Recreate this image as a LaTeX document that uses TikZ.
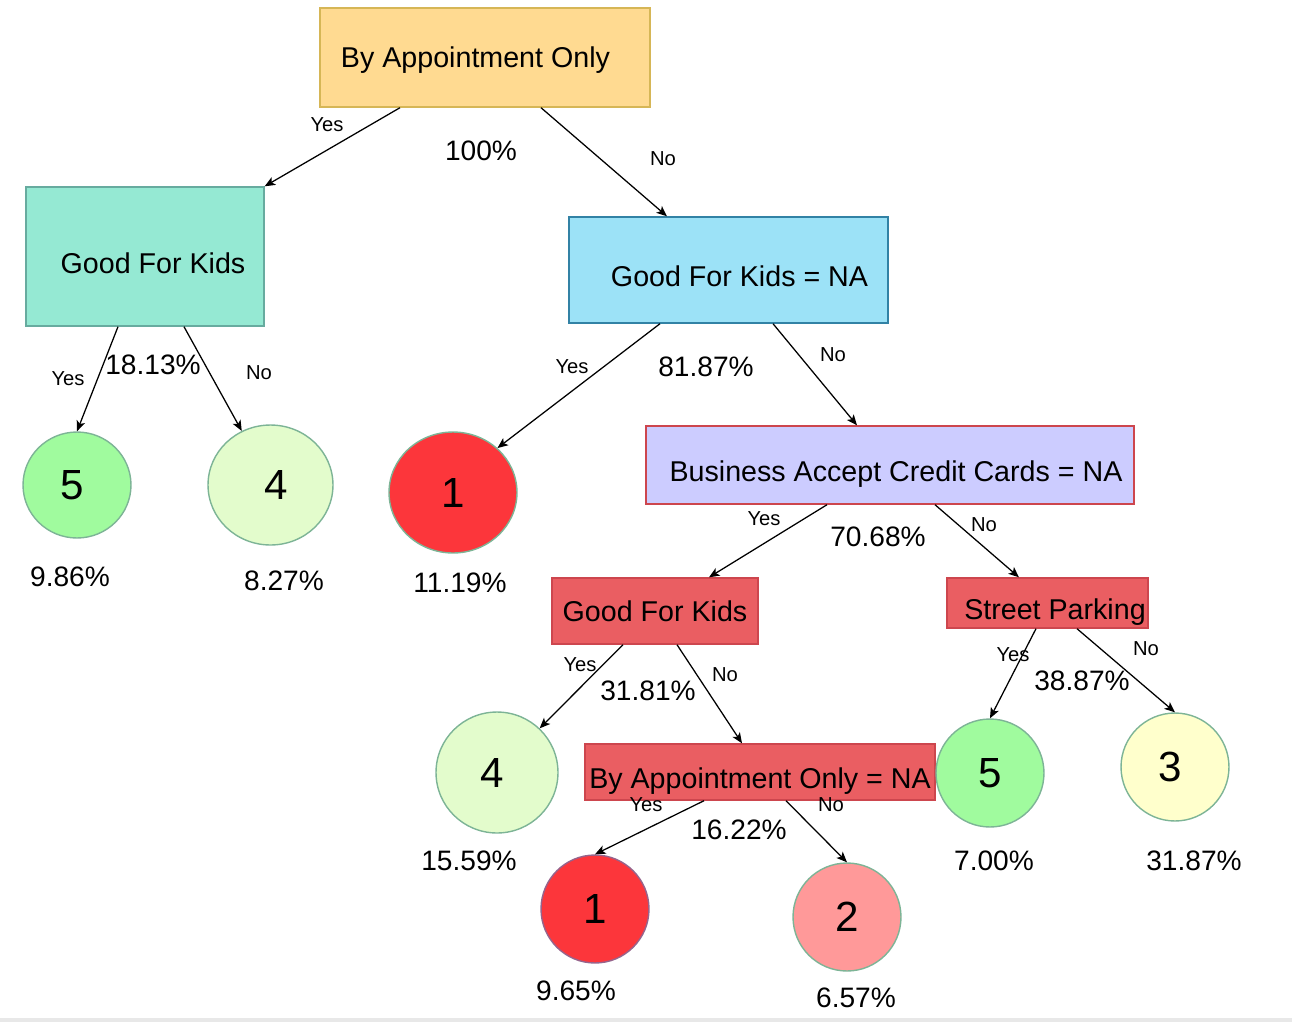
\documentclass[tikz,border=0pt]{standalone}
\usepackage{fontspec}
\setmainfont{Liberation Sans}
\usetikzlibrary{arrows.meta,calc,shapes.geometric}

\definecolor{bafill}{RGB}{255,218,145}
\definecolor{baline}{RGB}{214,182,86}
\definecolor{gkfill}{RGB}{149,233,211}
\definecolor{gkline}{RGB}{103,171,159}
\definecolor{gnfill}{RGB}{156,226,247}
\definecolor{gnline}{RGB}{50,130,165}
\definecolor{ccfill}{RGB}{204,204,255}
\definecolor{redfill}{RGB}{234,94,98}
\definecolor{redline}{RGB}{205,70,78}
\definecolor{leafline}{RGB}{125,180,150}
\definecolor{purpline}{RGB}{150,100,140}
\definecolor{gfivefill}{RGB}{160,251,158}
\definecolor{gfourfill}{RGB}{227,252,204}
\definecolor{ronefill}{RGB}{252,54,59}
\definecolor{rtwofill}{RGB}{255,153,153}
\definecolor{ythreefill}{RGB}{255,255,204}
\definecolor{stripgray}{RGB}{232,232,232}

\begin{document}
\begin{tikzpicture}[->, >={Stealth[length=6pt,width=5pt,inset=1.5pt]}, line width=0.72pt,
    x=0.02cm, y=-0.02cm,
    box/.style={rectangle, draw, line width=0.8pt, inner sep=0pt, font=\fontsize{16.3}{19}\selectfont, text height=11.5pt, text depth=0pt},
    low/.style={text height=19pt},
    leaf/.style={ellipse, draw=leafline, line width=0.8pt, inner sep=0pt, minimum width=2.16cm, minimum height=2.16cm, font=\fontsize{24}{28}\selectfont},
    yn/.style={font=\fontsize{11.5}{14}\selectfont, inner sep=0pt},
    pct/.style={font=\fontsize{16}{19}\selectfont, inner sep=0pt}]

\useasboundingbox (0,0) rectangle (1292,1022);
\fill[stripgray] (0,1018) rectangle (1292,1022);

\node[box, fill=bafill, draw=baline, minimum width=6.6cm, minimum height=1.98cm] (BA) at (485,57.5) {By Appointment Only\kern0.38cm};
\node[box, low, fill=gkfill, draw=gkline, minimum width=4.76cm, minimum height=2.78cm] (GK) at (145,256.5) {\kern0.32cm Good For Kids};
\node[box, low, fill=gnfill, draw=gnline, minimum width=6.38cm, minimum height=2.12cm] (GN) at (728.5,270) {\kern0.44cm Good For Kids = NA};
\node[box, low, fill=ccfill, draw=redline, minimum width=9.76cm, minimum height=1.56cm] (CC) at (890,465) {\kern0.24cm Business Accept Credit Cards = NA};
\node[box, fill=redfill, draw=redline, minimum width=4.12cm, minimum height=1.32cm] (GR) at (655,611) {Good For Kids};
\node[box, low, fill=redfill, draw=redline, minimum width=4.02cm, minimum height=1cm] (SP) at (1047.5,603) {\kern0.3cm Street Parking};
\node[box, low, fill=redfill, draw=redline, minimum width=7cm, minimum height=1.12cm] (BN) at (760,772) {By Appointment Only = NA};

\node[leaf, fill=gfivefill, minimum height=2.12cm] (V5a) at (77,485) {5\kern0.2cm};
\node[leaf, fill=gfourfill, minimum width=2.5cm, minimum height=2.4cm] (V4a) at (270.5,485) {\kern0.22cm 4};
\node[leaf, fill=ronefill, minimum width=2.56cm, minimum height=2.42cm] (V1a) at (453,492.5) {1};
\node[leaf, fill=gfourfill, minimum width=2.44cm, minimum height=2.42cm] (V4b) at (497,772.5) {4\kern0.2cm};
\node[leaf, fill=ronefill, draw=purpline] (V1b) at (595,909) {1};
\node[leaf, fill=rtwofill] (V2) at (847,917) {2};
\node[leaf, fill=gfivefill] (V5b) at (990,773) {5};
\node[leaf, fill=ythreefill] (V3) at (1175,767) {3\kern0.2cm};

\path ($(BA.south)+(-85,0)$) edge (GK.north east)
      ($(BA.south)+(56,0)$) edge ($(GN.north)+(-61.5,0)$)
      ($(GK.south)+(-27,0)$) edge (V5a.north)
      ($(GK.south)+(39,0)$) edge (V4a.118)
      ($(GN.south)+(-68.5,0)$) edge (V1a.45)
      ($(GN.south)+(44.5,0)$) edge ($(CC.north)+(-33,0)$)
      ($(CC.south)+(-63,0)$) edge ($(GR.north)+(54,0)$)
      ($(CC.south)+(45,0)$) edge ($(SP.north)+(-28.5,0)$)
      ($(GR.south)+(-32,0)$) edge (V4b.46)
      ($(GR.south)+(22,0)$) edge ($(BN.north)+(-18,0)$)
      ($(BN.south)+(-56,0)$) edge (V1b.north)
      ($(BN.south)+(26,0)$) edge (V2.north)
      ($(SP.south)+(-11.5,0)$) edge (V5b.north)
      ($(SP.south)+(29.5,0)$) edge (V3.north);

% branch labels
\node[yn] (yBA) at (327,125) {Yes};
\node[yn] (nBA) at (663,159) {No};
\node[yn] (yGK) at (68,379) {Yes};
\node[yn] (nGK) at (259,373) {No};
\node[yn] (yGN) at (572,367) {Yes};
\node[yn] (nGN) at (833,355) {No};
\node[yn] (yCC) at (764,519) {Yes};
\node[yn] (nCC) at (984,525) {No};
\node[yn] (yGR) at (580,665) {Yes};
\node[yn] (nGR) at (725,675) {No};
\node[yn] (yBN) at (646,805) {Yes};
\node[yn] (nBN) at (831,805) {No};
\node[yn] (ySP) at (1013,655) {Yes};
\node[yn] (nSP) at (1146,649) {No};

% shares
\node[pct] (pBA) at (481,151) {100\%};
\node[pct] (pGK) at (153,365) {18.13\%};
\node[pct] (pGN) at (706,367) {81.87\%};
\node[pct] (pCC) at (878,537) {70.68\%};
\node[pct] (pGR) at (648,691) {31.81\%};
\node[pct] (pBN) at (739,830) {16.22\%};
\node[pct] (pSP) at (1082,681) {38.87\%};
\node[pct] (pV5a) at (70,577) {9.86\%};
\node[pct] (pV4a) at (284,581) {8.27\%};
\node[pct] (pV1a) at (460,583) {11.19\%};
\node[pct] (pV4b) at (469,861) {15.59\%};
\node[pct] (pV1b) at (576,991) {9.65\%};
\node[pct] (pV2) at (856,998) {6.57\%};
\node[pct] (pV5b) at (994,861) {7.00\%};
\node[pct] (pV3) at (1194,861) {31.87\%};

\end{tikzpicture}
\end{document}
